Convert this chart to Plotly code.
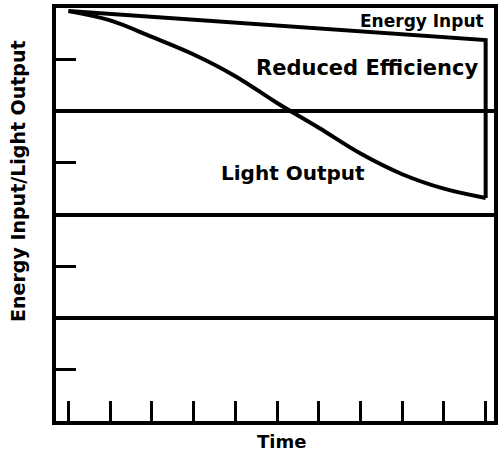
import plotly.graph_objects as go

# Time axis positions and the two curves
time = [0, 1, 2, 3, 4, 5, 6, 7, 8, 9, 10]
light_output = [3.97, 3.88, 3.72, 3.55, 3.34, 3.08, 2.84, 2.59, 2.39, 2.25, 2.16]
energy_x = [0, 10, 10]
energy_input = [3.97, 3.69, 2.16]

x_ticks = [0, 1, 2, 3, 4, 5, 6, 7, 8, 9, 10]
y_ticks = [0.5, 1.5, 2.5, 3.5]
y_grid = [1, 2, 3]

FONT = "DejaVu Sans"

fig = go.Figure()
fig.add_trace(go.Scatter(x=energy_x, y=energy_input, mode="lines",
                         line=dict(color="black", width=4), showlegend=False,
                         cliponaxis=False))
fig.add_trace(go.Scatter(x=time, y=light_output, mode="lines",
                         line=dict(color="black", width=4, shape="spline"),
                         showlegend=False))

# curve labels
fig.add_annotation(x=10.0, y=3.87, text="<b>Energy Input</b>", showarrow=False,
                   xanchor="right", yanchor="middle", font=dict(size=17))
fig.add_annotation(x=7.15, y=3.42, text="<b>Reduced Efficiency</b>", showarrow=False,
                   xanchor="center", yanchor="middle", font=dict(size=21))
fig.add_annotation(x=5.37, y=2.40, text="<b>Light Output</b>", showarrow=False,
                   xanchor="center", yanchor="middle", font=dict(size=20))

# axis titles
fig.add_annotation(x=0.514, y=-0.05, xref="paper", yref="paper", text="<b>Time</b>",
                   showarrow=False, xanchor="center", yanchor="middle", font=dict(size=18))
fig.add_annotation(x=-0.087, y=0.581, xref="paper", yref="paper",
                   text="<b>Energy Input/Light Output</b>", textangle=-90,
                   showarrow=False, xanchor="center", yanchor="middle", font=dict(size=19))

fig.update_xaxes(range=[-0.3, 10.2], tickvals=x_ticks, ticks="inside", ticklen=20,
                 tickwidth=3, tickcolor="black", showticklabels=False, showgrid=False,
                 zeroline=False, showline=True, linewidth=4, linecolor="black", mirror=True)
fig.update_yaxes(range=[0, 4], tickvals=y_ticks, ticks="inside", ticklen=20,
                 tickwidth=3, tickcolor="black", showticklabels=False, showgrid=False,
                 zeroline=False, showline=True, linewidth=4, linecolor="black", mirror=True,
                 minor=dict(tickvals=y_grid, showgrid=True, gridcolor="black", gridwidth=4,
                            ticks=""))

fig.update_layout(width=500, height=453, margin=dict(l=56, r=2, t=8, b=32),
                  plot_bgcolor="white", paper_bgcolor="white",
                  font=dict(family=FONT, color="black"))

# drop the page's default body margin so the 500x453 figure fills the window
fig.write_html("out.html", config={"displayModeBar": False},
               post_script="document.body.style.margin='0';")
